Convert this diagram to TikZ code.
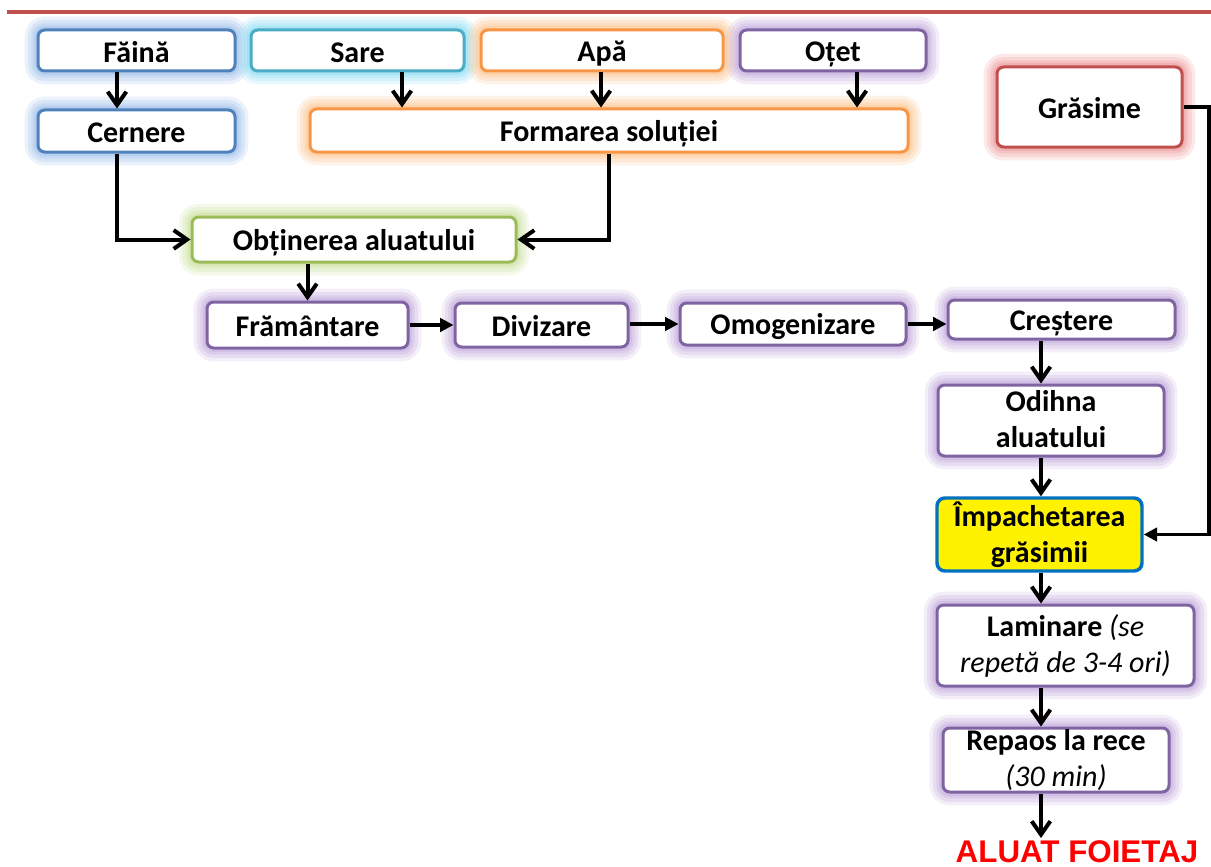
\documentclass[tikz,border=0pt]{standalone}
\usepackage{fontspec}
\setmainfont{Carlito}
\newfontfamily\arialf{Liberation Sans}
\usetikzlibrary{arrows.meta}
\newcommand{\upx}{0.75pt}
\newcommand{\mystrut}{\rule[-2.3pt]{0pt}{22.5pt}}
\definecolor{cblue}{HTML}{4F81BD}
\definecolor{gblue}{HTML}{9EBFEA}
\definecolor{ccyan}{HTML}{4BACC6}
\definecolor{gcyan}{HTML}{8EDDF3}
\definecolor{corange}{HTML}{F79646}
\definecolor{gorange}{HTML}{FCC48E}
\definecolor{cpurple}{HTML}{8064A2}
\definecolor{gpurple}{HTML}{C2AADC}
\definecolor{cred}{HTML}{C0504D}
\definecolor{gred}{HTML}{EE9898}
\definecolor{cgreen}{HTML}{9BBB59}
\definecolor{ggreen}{HTML}{C9E09C}
\definecolor{cimp}{HTML}{0070C0}
\tikzset{
  glow/.style={
    preaction={draw=#1,line width=20pt,draw opacity=0.2},
    preaction={draw=#1,line width=15pt,draw opacity=0.25},
    preaction={draw=#1,line width=10pt,draw opacity=0.3},
    preaction={draw=#1,line width=6pt,draw opacity=0.4}},
  box/.style={draw=#1, line width=2.25pt, fill=white, rounded corners=5pt,
    inner sep=0pt, align=center, font=\bfseries\fontsize{22.5}{27}\selectfont,
    execute at begin node=\mystrut, execute at end node=\mystrut},
  barb/.style={line width=3pt, -{Straight Barb[length=10pt,width=14pt]}},
  tri/.style={line width=2.8pt, -{Triangle[length=10pt,width=10pt]}},
}
% name, x1, y1, x2, y2, border colour, glow colour, text
\newcommand\bx[8]{\node[box=#6, glow=#7, minimum width={(#4-#2)*\upx},
  minimum height={(#5-#3)*\upx}] (#1) at ({(#2+#4)/2},{(#3+#5)/2}) {#8};}
\begin{document}
\begin{tikzpicture}[x=0.75pt,y=-0.75pt]
\useasboundingbox (0,0) rectangle (1211,867);
\coordinate (l1) at (7,12);
\coordinate (l2) at (1211,12);
\draw[cred, line width=2.3pt] (l1) -- (l2);

\bx{faina}{38}{30}{235}{71}{cblue}{gblue}{Făină}
\bx{sare}{251}{30}{464}{71}{ccyan}{gcyan}{Sare}
\bx{apa}{481}{30}{723}{71}{corange}{gorange}{Apă}
\bx{otet}{740}{30}{926}{71}{cpurple}{gpurple}{Oțet}
\bx{cernere}{38}{110}{235}{152}{cblue}{gblue}{Cernere}
\bx{form}{310}{109}{908}{152}{corange}{gorange}{Formarea soluției}
\bx{gras}{997}{67}{1182}{147}{cred}{gred}{Grăsime}
\bx{obt}{192}{217}{516}{262}{cgreen}{ggreen}{Obținerea aluatului}
\bx{fram}{207}{302}{408}{348}{cpurple}{gpurple}{Frământare}
\bx{div}{455}{303}{628}{347}{cpurple}{gpurple}{Divizare}
\bx{omog}{680}{303}{906}{345}{cpurple}{gpurple}{Omogenizare}
\bx{crest}{948}{300}{1175}{339}{cpurple}{gpurple}{Creștere}
\bx{odihna}{938}{385}{1164}{456}{cpurple}{gpurple}{Odihna\\aluatului}
\node[draw=cimp, line width=2.6pt, fill=yellow, rounded corners=6pt, inner sep=0pt,
  align=center, font=\bfseries\fontsize{22.5}{27}\selectfont,
  execute at begin node=\mystrut, execute at end node=\mystrut,
  minimum width={205*\upx}, minimum height={73*\upx}] (imp) at (1039.5,534.5)
  {Împachetarea\\grăsimii};
\bx{lamin}{937}{605}{1194}{686}{cpurple}{gpurple}{Laminare {\mdseries\itshape (se}\\{\mdseries\itshape repetă de 3-4 ori)}}
\bx{repaos}{943}{728}{1169}{792}{cpurple}{gpurple}{Repaos la rece\\{\mdseries\itshape (30 min)}}
\node[anchor=base, inner sep=0pt, text=red, font=\arialf\bfseries\fontsize{23.5}{27}\selectfont]
  (final) at (1077,862) {ALUAT FOIETAJ};

\coordinate (xa) at (117,0);
\coordinate (xs) at (402,0);
\coordinate (xp) at (601,0);
\coordinate (xo) at (857,0);
\coordinate (xc) at (1041,0);
\coordinate (xr) at (1209,0);
\coordinate (fin) at (1041,838);

\draw[barb] (faina.south -| xa) -- (cernere.north -| xa);
\draw[barb] (sare.south -| xs) -- (form.north -| xs);
\draw[barb] (apa.south -| xp) -- (form.north -| xp);
\draw[barb] (otet.south -| xo) -- (form.north -| xo);
\draw[barb] (cernere.south -| xa) |- (obt.west);
\draw[barb] (form.south) |- (obt.east);
\draw[barb] (obt.south -| fram.north) -- (fram.north);
\draw[tri] (fram.east) -- (div.west);
\draw[tri] (div.east |- omog.west) -- (omog.west);
\draw[tri] (omog.east) -- (omog.east -| crest.west);
\draw[barb] (crest.south -| xc) -- (odihna.north -| xc);
\draw[barb] (odihna.south -| xc) -- (imp.north -| xc);
\draw[barb] (imp.south -| xc) -- (lamin.north -| xc);
\draw[barb] (lamin.south -| xc) -- (repaos.north -| xc);
\draw[barb] (repaos.south -| xc) -- (fin);
\draw[line width=2.3pt, -{Triangle[length=10pt,width=10pt]}] (gras.east) -- (gras.east -| xr) |- (imp.east);
\end{tikzpicture}
\end{document}
